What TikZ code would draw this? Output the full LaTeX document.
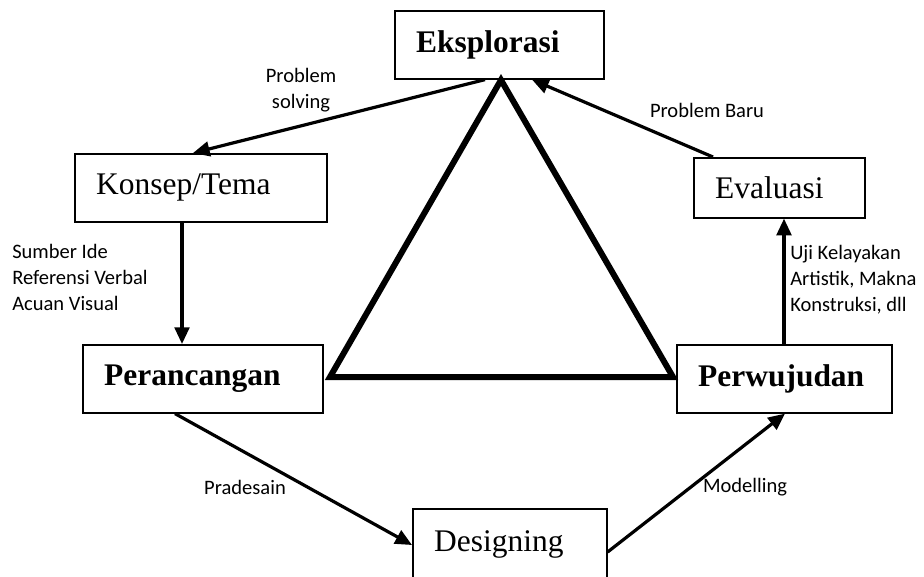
\documentclass[tikz,border=0pt]{standalone}
\usepackage{fontspec}
\setmainfont{Liberation Serif}
\newfontfamily\labfont{Carlito}
\usetikzlibrary{arrows.meta}
\tikzset{
  box/.style={draw, line width=1.2pt, rectangle, anchor=north west, align=left,
    inner xsep=16pt, inner ysep=0pt, font=\fontsize{23.6pt}{28pt}\selectfont},
  bbox/.style={box, font=\fontsize{23.6pt}{28pt}\selectfont\bfseries},
  arr/.style={line width=2.4pt, -{Triangle[length=12.5pt,width=11pt]}},
  lab/.style={inner sep=0pt, font=\labfont\fontsize{15.4pt}{19.5pt}\selectfont},
  tri/.style={line width=4.5pt, line join=miter}
}
\begin{document}
\begin{tikzpicture}[x=0.75pt,y=-0.75pt]
\useasboundingbox (0,0) rectangle (924,576);
% boxes
\node[bbox, text width=124.75pt, minimum height=51pt] (eks) at (394,10) {Eksplorasi};
\node[box, text width=157pt, minimum height=51pt] (konsep) at (74,153) {Konsep/Tema};
\node[box, text width=96.25pt, minimum height=45pt] (eval) at (693,157) {Evaluasi};
\node[bbox, text width=148pt, minimum height=51pt] (peran) at (82,344) {Perancangan};
\node[bbox, text width=129.25pt, minimum height=51pt] (perw) at (676,344) {Perwujudan};
\node[box, text width=113.5pt, minimum height=53pt] (design) at (412,508) {Designing};
% triangle
\draw[tri] (501,80) -- (673,377) -- (330,377) -- cycle;
% connectors
\draw[arr] (eks.south -| 485,0) -- (konsep.north -| 193,0);
\draw[arr] (konsep.south -| 182,0) -- (peran.north -| 182,0);
\draw[arr] (peran.south -| 175,0) -- (design.west |- 0,545);
\draw[arr] (design.east |- 0,552) -- (perw.south -| 785,0);
\draw[arr] (perw.north -| 784,0) -- (eval.south -| 784,0);
\draw[arr] (eval.north -| 713,0) -- (eks.south -| 532,0);
% labels
\node[lab, align=center] (lps) at (301,90) {Problem\\solving};
\node[lab] (lpb) at (707,110) {Problem Baru};
\node[lab, align=left, anchor=west] (lsum) at (12,277) {Sumber Ide\\Referensi Verbal\\Acuan Visual};
\node[lab, align=left, anchor=west] (luji) at (790,280) {Uji Kelayakan\\Artistik, Makna\\Konstruksi, dll};
\node[lab] (lpra) at (245,487) {Pradesain};
\node[lab] (lmod) at (745,487) {Modelling};
\end{tikzpicture}
\end{document}
